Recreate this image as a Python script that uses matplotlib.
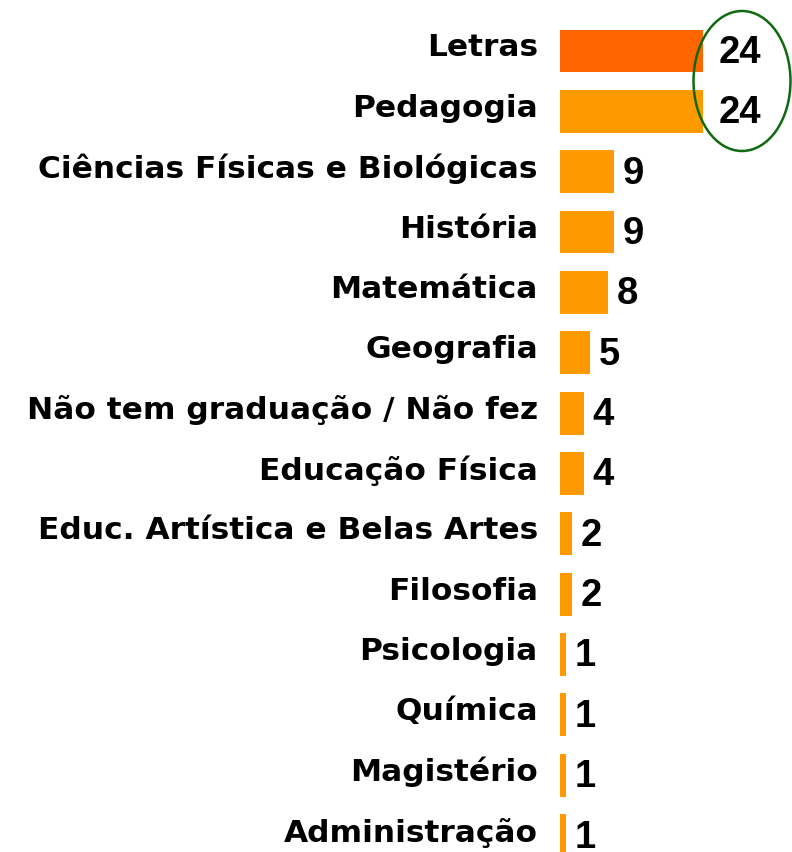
import matplotlib
matplotlib.use("Agg")
import matplotlib.pyplot as plt
from matplotlib.patches import Ellipse
from matplotlib.transforms import offset_copy

categories = ["Letras", "Pedagogia", "Ciências Físicas e Biológicas", "História",
              "Matemática", "Geografia", "Não tem graduação / Não fez",
              "Educação Física", "Educ. Artística e Belas Artes", "Filosofia",
              "Psicologia", "Química", "Magistério", "Administração"]
values = [24, 24, 9, 9, 8, 5, 4, 4, 2, 2, 1, 1, 1, 1]
colors = ["#FF6600"] + ["#FF9900"] * (len(values) - 1)

W, H = 792, 853
fig = plt.figure(figsize=(W / 100, H / 100), dpi=100)
x0 = 560
ax = fig.add_axes([x0 / W, 0, 1 - x0 / W, 1])
pitch = 60.35
c0 = 52
px_per_unit = 5.96
ax.set_ylim((H - c0) / pitch, -c0 / pitch)
ax.set_xlim(0, (W - x0) / px_per_unit)
ypos = list(range(len(values)))
ax.barh(ypos, values, height=0.71, color=colors, clip_on=False)
ax.set_yticks(ypos)
ax.set_yticklabels(categories, fontsize=22.5, fontweight="bold", family="DejaVu Sans")
ax.tick_params(axis="y", length=0, pad=16)
for lab in ax.get_yticklabels():
    lab.set_va("center")
    lab.set_transform(offset_copy(lab.get_transform(), fig=fig, x=0, y=4 * 0.72, units="points"))
ax.set_xticks([])
for s in ax.spines.values():
    s.set_visible(False)

for y, v in zip(ypos, values):
    dx = 16 if v >= 10 else 9
    ax.annotate(str(v), (v, y), xytext=(dx * 0.72, -1 * 0.72), textcoords="offset points",
                ha="left", va="center", fontsize=27.5, fontweight="bold",
                family="Liberation Sans", annotation_clip=False)

ell = Ellipse(((742 - x0) / px_per_unit, (82 - c0) / pitch),
              width=97 / px_per_unit, height=140 / pitch,
              fill=False, edgecolor="#0F6A0F", linewidth=1.8, clip_on=False)
ax.add_patch(ell)

fig.savefig("out.png", dpi=100)
